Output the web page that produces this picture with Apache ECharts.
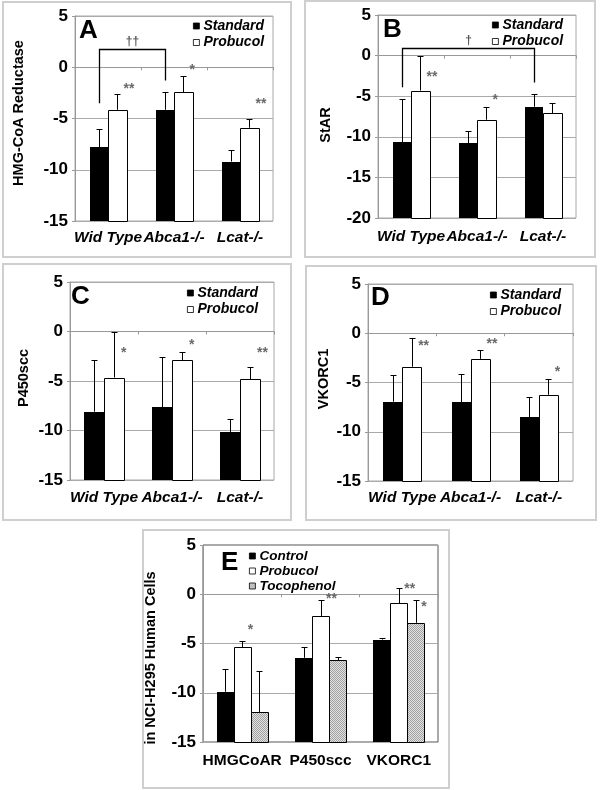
<!DOCTYPE html>
<html><head><meta charset="utf-8">
<script src="https://cdn.jsdelivr.net/npm/echarts@6/dist/echarts.min.js"></script>
<style>html,body{margin:0;padding:0;background:#fff}#c{width:600px;height:790px}</style>
</head><body><div id="c"></div>
<script>
// ---------- data ----------
const mouseCats = ['Wid Type', 'Abca1-/-', 'Lcat-/-'];
const humanCats = ['HMGCoAR', 'P450scc', 'VKORC1'];

const aStandard = [-7.8, -4.15, -9.2];
const aStandardErr = [-6.0, -2.4, -8.1];
const aProbucol = [-4.15, -2.45, -5.9];
const aProbucolErr = [-2.6, -0.9, -5.0];
const aStars = [[0, 1, -2.1, '**'], [1, 1, -0.3, '*'], [2, 1, -3.6, '**']];
const aBracket = [[0, 1, 1.75, -3.5, -1.3, '††']];

const bStandard = [-10.7, -10.8, -6.3];
const bStandardErr = [-5.4, -9.3, -4.7];
const bProbucol = [-4.3, -7.9, -7.1];
const bProbucolErr = [0.0, -6.35, -5.8];
const bStars = [[0, 1, -2.6, '**'], [1, 1, -5.5, '*']];
const bBracket = [[0, 2, 0.95, -3.9, -3.3, '†']];

const cStandard = [-8.1, -7.65, -10.2];
const cStandardErr = [-2.9, -2.6, -8.8];
const cProbucol = [-4.65, -2.9, -4.8];
const cProbucolErr = [-0.1, -2.1, -3.6];
const cStars = [[0, 1, -2.2, '*'], [1, 1, -1.35, '*'], [2, 1, -2.2, '**']];

const dStandard = [-6.95, -7.0, -8.55];
const dStandardErr = [-4.25, -4.15, -6.45];
const dProbucol = [-3.4, -2.6, -6.25];
const dProbucolErr = [-0.5, -1.7, -4.65];
const dStars = [[0, 1, -1.35, '**'], [1, 1, -1.1, '**'], [2, 1, -3.9, '*']];

const eControl = [-9.9, -6.45, -4.6];
const eControlErr = [-7.6, -5.4, -4.45];
const eProbucol = [-5.35, -2.2, -0.9];
const eProbucolErr = [-4.7, -0.6, 0.6];
const eTocophenol = [-12.0, -6.7, -2.9];
const eTocophenolErr = [-7.8, -6.4, -0.55];
const eStars = [[0, 1, -3.6, '*'], [1, 1, -0.45, '**'], [2, 1, 0.5, '**'], [2, 2, -1.35, '*']];

const yRangeA = [-15, 5], yRangeB = [-20, 5], yStep = 5;

// ---------- styling / layout ----------
const FF = "'Liberation Sans', Arial, Helvetica, sans-serif";
function makePattern() {
  const cv = document.createElement('canvas');
  cv.width = 2; cv.height = 2;
  const g = cv.getContext('2d');
  g.fillStyle = '#e2e2e2'; g.fillRect(0, 0, 2, 2);
  g.fillStyle = '#a0a0a0'; g.fillRect(0, 0, 1, 1); g.fillRect(1, 1, 1, 1);
  return {image: cv, repeat: 'repeat'};
}
const styles = {
  Standard: {fill: '#000', stroke: null, lineWidth: 0},
  Control: {fill: '#000', stroke: null, lineWidth: 0},
  Probucol: {fill: '#fff', stroke: '#000', lineWidth: 1},
  Tocophenol: {fill: makePattern(), stroke: '#000', lineWidth: 1}
};

const panels = [
  {grid: {left: 75, top: 16, width: 198, height: 205}, range: yRangeA, cats: mouseCats, bw: 18.5, lblMargin: 9,
   series: [['Standard', aStandard, aStandardErr], ['Probucol', aProbucol, aProbucolErr]], stars: aStars, bracket: aBracket,
   name: 'HMG-CoA Reductase', nameX: 19, nameY: 113, letter: 'A', letterX: 79, letterY: 18,
   legend: {left: 193, top: 19}, frame: [3, 2, 288, 255], border: '#a8a8a8'},
  {grid: {left: 378, top: 15, width: 198, height: 203}, range: yRangeB, cats: mouseCats, bw: 18.5, lblMargin: 11,
   series: [['Standard', bStandard, bStandardErr], ['Probucol', bProbucol, bProbucolErr]], stars: bStars, bracket: bBracket,
   name: 'StAR', nameX: 326, nameY: 125, letter: 'B', letterX: 383, letterY: 17,
   legend: {left: 492, top: 18}, frame: [305, 1, 290, 256], border: '#a8a8a8'},
  {grid: {left: 70, top: 282, width: 204, height: 198}, range: yRangeA, cats: mouseCats, bw: 20, lblMargin: 10,
   series: [['Standard', cStandard, cStandardErr], ['Probucol', cProbucol, cProbucolErr]], stars: cStars, bracket: [],
   name: 'P450scc', nameX: 24, nameY: 378, letter: 'C', letterX: 71, letterY: 284,
   legend: {left: 187, top: 286}, frame: [3, 264, 288, 256], border: '#a8a8a8'},
  {grid: {left: 368, top: 284, width: 205, height: 197}, range: yRangeA, cats: mouseCats, bw: 19, lblMargin: 9,
   series: [['Standard', dStandard, dStandardErr], ['Probucol', dProbucol, dProbucolErr]], stars: dStars, bracket: [],
   name: 'VKORC1', nameX: 324, nameY: 379, letter: 'D', letterX: 371, letterY: 285,
   legend: {left: 490, top: 288}, frame: [306, 266, 290, 254], border: '#a8a8a8'},
  {grid: {left: 203, top: 545, width: 235, height: 197}, range: yRangeA, cats: humanCats, bw: 17, lblMargin: 11,
   series: [['Control', eControl, eControlErr], ['Probucol', eProbucol, eProbucolErr], ['Tocophenol', eTocophenol, eTocophenolErr]],
   stars: eStars, bracket: [],
   name: 'in NCI-H295 Human Cells', nameX: 151, nameY: 658, letter: 'E', letterX: 221, letterY: 550,
   legend: {left: 249, top: 549}, frame: [143, 530, 306, 258], border: '#555'}
];

const option = {animation: false, backgroundColor: '#fff', grid: [], xAxis: [], yAxis: [], series: [], legend: [], title: [], graphic: []};

panels.forEach((p, gi) => {
  option.grid.push(Object.assign({show: true, borderColor: p.border, borderWidth: 1, containLabel: false}, p.grid));
  option.xAxis.push({type: 'category', gridIndex: gi, data: p.cats,
    axisLine: {lineStyle: {color: '#999'}}, axisTick: {show: true, length: 3, lineStyle: {color: '#999'}},
    axisLabel: {interval: 0, hideOverlap: false, margin: p.lblMargin, color: '#000', fontSize: 15.5, fontWeight: 'bold',
      fontStyle: gi < 4 ? 'italic' : 'normal', fontFamily: FF},
    splitLine: {show: false}});
  option.yAxis.push({type: 'value', gridIndex: gi, min: p.range[0], max: p.range[1], interval: yStep,
    axisLine: {show: true, lineStyle: {color: '#999'}}, axisTick: {show: true, length: 3, lineStyle: {color: '#999'}},
    axisLabel: {margin: 7, color: '#000', fontSize: 17, fontWeight: 'bold', fontFamily: FF},
    splitLine: {show: true, lineStyle: {color: '#aaa', width: 1}}});
  const n = p.series.length;
  p.series.forEach((s, si) => {
    const st = styles[s[0]];
    // bars rise from the axis minimum to each value
    option.series.push({type: 'custom', name: s[0], xAxisIndex: gi, yAxisIndex: gi, z: 2, silent: true,
      encode: {x: 0, y: 1},
      itemStyle: {color: st.fill, borderColor: st.stroke || st.fill, borderWidth: st.lineWidth},
      data: s[1].map((v, i) => [i, v]),
      renderItem: (params, api) => {
        const i = api.value(0);
        const top = api.coord([i, api.value(1)]);
        const bot = api.coord([i, p.range[0]]);
        const x0 = Math.round(top[0] + (si - (n - 1) / 2) * p.bw - p.bw / 2);
        const x1 = Math.round(top[0] + (si - (n - 1) / 2) * p.bw + p.bw / 2);
        const half = st.lineWidth ? 0.5 : 0;
        return {type: 'rect', shape: {x: x0 + half, y: Math.round(top[1]) + half, width: x1 - x0, height: Math.round(bot[1]) - Math.round(top[1])},
          style: {fill: st.fill, stroke: st.stroke, lineWidth: st.lineWidth}};
      }});
    const errData = s[1].map((v, i) => [i, v, s[2][i]]);
    option.series.push({type: 'custom', xAxisIndex: gi, yAxisIndex: gi, data: errData, z: 3, silent: true,
      encode: {x: 0, y: [1, 2]},
      renderItem: (params, api) => {
        const c = api.coord([api.value(0), api.value(1)]);
        const t = api.coord([api.value(0), api.value(2)]);
        const x = Math.round(c[0] + (si - (n - 1) / 2) * p.bw) + 0.5;
        const ty = Math.round(t[1]) + 0.5;
        return {type: 'group', children: [
          {type: 'line', shape: {x1: x, y1: c[1], x2: x, y2: ty}, style: {stroke: '#000', lineWidth: 1}},
          {type: 'line', shape: {x1: x - 3, y1: ty, x2: x + 3, y2: ty}, style: {stroke: '#000', lineWidth: 1}}
        ]};
      }});
  });
  // significance stars
  option.series.push({type: 'custom', xAxisIndex: gi, yAxisIndex: gi, z: 4, silent: true,
    encode: {x: 0, y: 1},
    data: p.stars.map(s => [s[0], s[2], s[1]]),
    renderItem: (params, api) => {
      const c = api.coord([api.value(0), api.value(1)]);
      const si = api.value(2);
      const x = c[0] + (si - (n - 1) / 2) * p.bw + p.bw / 2 - 3;
      return {type: 'text', x: x, y: c[1], style: {text: p.stars[params.dataIndex][3], fill: '#6a6a6a',
        font: 'bold 14px ' + FF, textAlign: 'left', textVerticalAlign: 'middle'}};
    }});
  // brackets
  if (p.bracket.length) {
    option.series.push({type: 'custom', xAxisIndex: gi, yAxisIndex: gi, z: 4, silent: true,
      encode: {x: 0, y: 2},
      data: p.bracket.map(b => b.slice(0, 5)),
      renderItem: (params, api) => {
        const off = (0 - (n - 1) / 2) * p.bw;
        const l = api.coord([api.value(0), api.value(2)]);
        const r = api.coord([api.value(1), api.value(2)]);
        const lb = api.coord([api.value(0), api.value(3)]);
        const rb = api.coord([api.value(1), api.value(4)]);
        const x1 = Math.round(l[0] + off) + 0.5, x2 = Math.round(r[0] + off) + 0.5, y = Math.round(l[1]) + 0.5;
        return {type: 'group', children: [
          {type: 'polyline', shape: {points: [[x1, lb[1]], [x1, y], [x2, y], [x2, rb[1]]]}, style: {stroke: '#000', lineWidth: 1.3, fill: null}},
          {type: 'text', x: (x1 + x2) / 2, y: y - 2, style: {text: p.bracket[params.dataIndex][5], fill: '#555',
            font: 'bold 12px ' + FF, textAlign: 'center', textVerticalAlign: 'bottom'}}
        ]};
      }});
  }
  option.legend.push({left: p.legend.left, top: p.legend.top, orient: 'vertical', padding: 0,
    itemGap: gi === 4 ? 1 : 2.5, itemWidth: 6, itemHeight: 6, icon: 'rect', selectedMode: false,
    itemStyle: {borderWidth: 0.8},
    data: p.series.map(s => s[0]),
    textStyle: {fontSize: gi === 4 ? 13.5 : 14, lineHeight: gi === 4 ? 13.5 : 14, fontWeight: 'bold', fontStyle: 'italic', color: '#000', fontFamily: FF, padding: [0, 0, 0, -1]}});
  option.title.push({text: p.letter, left: p.letterX, top: p.letterY, padding: 0,
    textStyle: {fontSize: 26, fontWeight: 'bold', color: '#000', fontFamily: FF}});
  option.graphic.push({type: 'text', x: p.nameX, y: p.nameY, rotation: Math.PI / 2, silent: true,
    style: {text: p.name, font: 'bold 14.5px ' + FF, fill: '#000', textAlign: 'center', textVerticalAlign: 'middle'}});
  option.graphic.push({type: 'rect', shape: {x: p.frame[0], y: p.frame[1], width: p.frame[2], height: p.frame[3]},
    style: {fill: null, stroke: '#cfcfcf', lineWidth: 2}, silent: true, z: -10});
});

const chart = echarts.init(document.getElementById('c'), null, {renderer: 'canvas'});
chart.setOption(option);
</script></body></html>
